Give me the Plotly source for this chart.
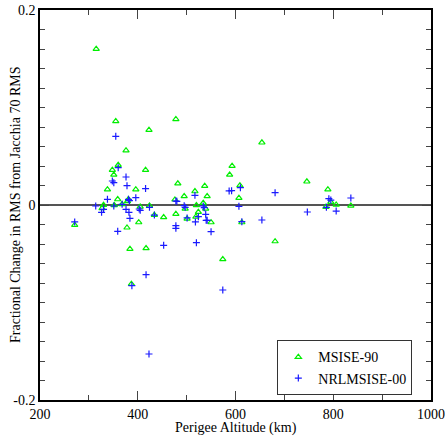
import plotly.graph_objects as go

# MSISE-90 (green triangles)
msise90_alt = [315, 355, 423, 478, 376, 654, 360, 348, 351, 416, 593, 588, 482, 537, 609, 746, 789,
               338, 396, 517, 495, 542, 359, 381, 476, 534, 607, 330, 327, 352, 368, 379, 405, 424,
               478, 497, 501, 520, 524, 519, 539, 550, 613, 402, 378, 434, 453, 271, 384, 417, 574,
               681, 387, 785, 795, 806, 836]
msise90_val = [0.160, 0.086, 0.077, 0.088, 0.056, 0.064, 0.041, 0.036, 0.031, 0.036, 0.040, 0.031, 0.022,
               0.0195, 0.020, 0.024, 0.016, 0.016, 0.016, 0.014, 0.0089, 0.0089, 0.0058, 0.0058, 0.0055,
               0.002, 0.0072, 0.0, -0.0034, -0.0003, 0.0007, 0.0038, -0.0017, -0.0007, -0.0092, -0.0038,
               -0.014, -0.0003, -0.0072, -0.012, -0.0038, -0.0178, -0.0178, -0.0178, -0.0232, -0.0103,
               -0.0126, -0.0205, -0.0451, -0.0444, -0.0557, -0.0373, -0.081, -0.002, 0.0031, 0.0003,
               -0.0007]

# NRLMSISE-00 (blue pluses)
nrl_alt = [355, 360, 376, 348, 351, 378, 416, 338, 381, 383, 396, 314, 326, 330, 351, 368, 376, 382, 384,
           359, 403, 405, 424, 434, 478, 480, 478, 478, 453, 417, 423, 388, 495, 497, 501, 517, 518, 520,
           524, 534, 536, 539, 540, 542, 550, 574, 587, 592, 607, 610, 613, 654, 681, 747, 786, 791, 795,
           806, 836, 271]
nrl_val = [0.0704, 0.0383, 0.0287, 0.0246, 0.0229, 0.0198, 0.0168, 0.0058, 0.0058, 0.0044, 0.0075, -0.001,
           -0.0075, -0.0044, -0.001, 0.0007, -0.0044, -0.0075, -0.0137, -0.027, -0.0041, -0.0055, -0.0024,
           -0.0103, 0.0041, 0.0038, -0.0212, -0.0239, -0.0414, -0.0715, -0.1528, -0.0827, -0.0007, -0.0024,
           -0.0133, 0.0099, -0.0174, -0.0386, -0.012, -0.001, -0.0027, -0.0096, -0.0157, -0.0157, -0.0274,
           -0.0872, 0.0144, 0.0147, -0.0014, 0.0178, -0.0171, -0.0154, 0.0126, -0.0072, -0.0024, 0.0065,
           0.0051, -0.0062, 0.0072, -0.0174]

x_ticks = [200, 400, 600, 800, 1000]
y_ticks = [-0.2, 0, 0.2]
y_tick_text = ["-0.2", "0", "0.2"]
x_title = "Perigee Altitude (km)"
y_title = "Fractional Change in RMS from Jacchia 70 RMS"

FONT = "Liberation Serif"

fig = go.Figure()
fig.add_trace(go.Scatter(
    x=msise90_alt, y=msise90_val, mode="markers", name="MSISE-90",
    marker=dict(symbol="triangle-up-open", size=5.5, color="#00ee00", line=dict(width=1.2, color="#00ee00")),
))
fig.add_trace(go.Scatter(
    x=nrl_alt, y=nrl_val, mode="markers", name="NRLMSISE-00",
    marker=dict(symbol="cross-thin-open", size=5, color="#1a1aff", line=dict(width=1.2, color="#1a1aff")),
))

axis_common = dict(
    showgrid=False, showline=True, linecolor="black", linewidth=1.5, mirror="ticks",
    ticks="inside", ticklen=9, tickwidth=1, tickcolor="#444", automargin=False,
    tickfont=dict(family=FONT, size=14, color="black"),
)

fig.update_xaxes(
    range=[200, 1000], tickmode="array", tickvals=x_ticks, ticktext=[str(v) for v in x_ticks],
    minor=dict(ticks="inside", ticklen=5, dtick=100, tick0=200, tickcolor="#444"),
    ticklabelstandoff=0,
    zeroline=False, **axis_common,
)
fig.update_yaxes(
    range=[-0.2, 0.2], tickmode="array", tickvals=y_ticks, ticktext=y_tick_text,
    minor=dict(ticks="inside", ticklen=5, dtick=0.02, tick0=0, tickcolor="#444"),
    zeroline=True, zerolinecolor="#555", zerolinewidth=1.5, **axis_common,
)

fig.add_annotation(text=x_title, xref="paper", yref="paper", x=0.5, y=-0.073,
                   xanchor="center", yanchor="middle", showarrow=False,
                   font=dict(family=FONT, size=14, color="black"))
fig.add_annotation(text=y_title, xref="paper", yref="paper", x=-0.064, y=0.5,
                   xanchor="center", yanchor="middle", textangle=-90, showarrow=False,
                   font=dict(family=FONT, size=14, color="black"))

fig.update_layout(
    width=445, height=440,
    margin=dict(l=40, r=14, t=10, b=40),
    plot_bgcolor="white", paper_bgcolor="white",
    font=dict(family=FONT, size=14, color="black"),
    legend=dict(
        x=0.607, y=0.012, xanchor="left", yanchor="bottom",
        bgcolor="white", bordercolor="#333", borderwidth=1,
        font=dict(family=FONT, size=14, color="black"),
        tracegroupgap=0, itemsizing="trace",
    ),
)

fig.write_html("out.html")
